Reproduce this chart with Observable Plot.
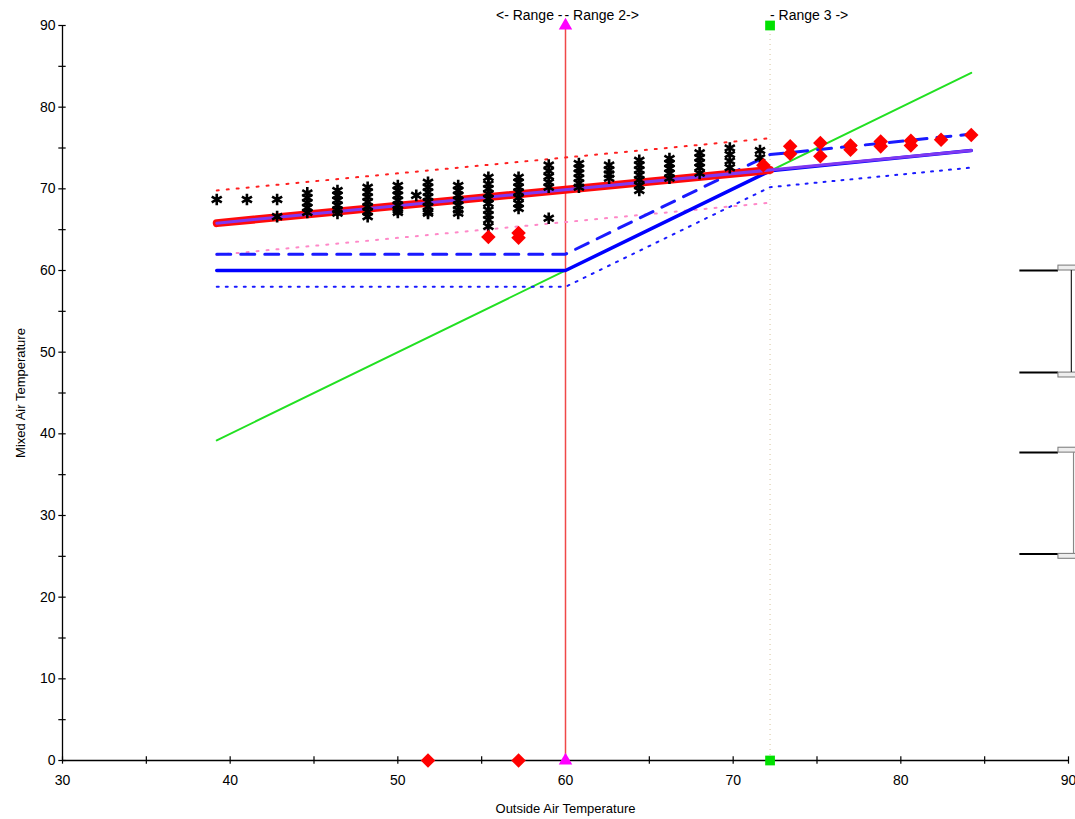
<!DOCTYPE html>
<html><head><meta charset="utf-8">
<script src="https://cdn.jsdelivr.net/npm/d3@7"></script>
<script src="https://cdn.jsdelivr.net/npm/@observablehq/plot@0.6"></script>
<style>
html,body{margin:0;padding:0;background:#fff;}
</style></head><body><div id="chart"></div>
<script>
// ---- tick values ----
const xTickLabels = [30, 40, 50, 60, 70, 80, 90];
const xTickMarks = [30, 35, 40, 45, 50, 55, 60, 65, 70, 75, 80, 85, 90];
const yTickLabels = [0, 10, 20, 30, 40, 50, 60, 70, 80, 90];
const yTickMarks = [0, 5, 10, 15, 20, 25, 30, 35, 40, 45, 50, 55, 60, 65, 70, 75, 80, 85, 90];

// ---- range boundaries ----
const rangeSplit1 = 60;
const rangeSplit2 = 72.2;

// ---- lines [x, y] ----
const greenLine = [[39.2, 39.2], [84.2, 84.2]];
const blueSolid = [[39.2, 60], [60, 60], [72.2, 72.2], [84.2, 74.7]];
const blueDashed = [[39.2, 62], [60, 62], [72.2, 74.2], [84.2, 76.7]];
const blueDotted = [[39.2, 58], [60, 58], [72.2, 70.2], [84.2, 72.6]];
const regressionBand = [[39.2, 65.8], [72.2, 72.3]];
const regressionCenter = [[39.2, 65.8], [72.2, 72.3], [84.2, 74.7]];
const upperDotted = [[39.2, 69.8], [72.2, 76.2]];
const lowerDotted = [[39.2, 61.9], [72.2, 68.3]];

// ---- measured points (asterisks) ----
const measX = [39.2, 41, 42.8, 44.6, 46.4, 48.2, 50, 51.1, 51.8, 53.6, 55.4, 57.2, 59, 60.8, 62.6, 64.4, 66.2, 68, 69.8, 71.6];
const measY = [
  [68.7],
  [68.7],
  [68.7, 66.6],
  [69.5, 68.9, 68.3, 67.7, 67.1],
  [69.8, 69.2, 68.6, 68.0, 67.4, 67.0],
  [70.2, 69.6, 69.0, 68.4, 67.8, 67.2, 66.6],
  [70.4, 69.8, 69.2, 68.6, 68.0, 67.4, 67.1],
  [69.2],
  [70.8, 70.2, 69.6, 69.0, 68.4, 67.8, 67.2, 67.0],
  [70.4, 69.8, 69.2, 68.6, 68.0, 67.4, 67.0],
  [71.4, 70.6, 70.0, 69.4, 68.8, 68.2, 67.4, 66.8, 66.2, 65.4],
  [71.4, 70.8, 70.2, 69.6, 68.9, 68.2, 67.6],
  [72.9, 72.2, 71.5, 70.8, 70.2, 66.4],
  [73.1, 72.5, 71.9, 71.3, 70.7, 70.2],
  [72.9, 72.3, 71.8, 71.3],
  [73.5, 72.9, 72.3, 71.7, 71.1, 70.4, 69.8],
  [73.7, 73.1, 72.5, 71.9, 71.3],
  [74.4, 73.8, 73.2, 72.6, 71.9],
  [75.0, 74.2, 73.4, 72.6],
  [74.7, 73.8]
];

// ---- flagged points (red diamonds) ----
const flagX = [51.8, 57.2, 55.4, 57.2, 57.2, 71.8, 73.4, 73.4, 75.2, 75.2, 77, 77, 78.8, 78.8, 80.6, 80.6, 82.4, 84.2];
const flagY = [0, 0, 64.1, 64.6, 64.0, 72.9, 75.2, 74.3, 75.6, 74.0, 75.3, 74.8, 75.8, 75.2, 75.9, 75.3, 76.0, 76.6];

// ---- bracket widgets at right ----
const bracketTops = [60.0, 37.7];
const bracketBottoms = [47.5, 25.3];

const rangeLabels = ["<- Range -", "- Range 2->", "- Range 3 ->"];
const xLabel = "Outside Air Temperature";
const yLabel = "Mixed Air Temperature";

const measured = measX.flatMap((x, i) => measY[i].map(y => ({x, y})));
const flagged = flagX.map((x, i) => ({x, y: flagY[i]}));
const pts = a => a.map(([x, y]) => ({x, y}));

const font = "Liberation Sans, Arial, sans-serif";

const chart = Plot.plot({
  width: 1075,
  height: 819,
  marginLeft: 62,
  marginRight: 7,
  marginTop: 25,
  marginBottom: 59,
  style: {fontFamily: font, fontSize: "13px", background: "#fff", overflow: "visible"},
  x: {domain: [30, 90]},
  y: {domain: [0, 90]},
  axis: null,
  marks: [
    // brackets on the right
    Plot.ruleY([...bracketTops, ...bracketBottoms], {y: d => d, x1: 87.1, x2: 89.4, stroke: "#000", strokeWidth: 2}),
    Plot.rect(bracketTops, {x1: 89.4, x2: 90.6, y1: d => d, y2: d => d + 0.6, fill: "#eee", stroke: "#777", strokeWidth: 1}),
    Plot.rect(bracketBottoms, {x1: 89.4, x2: 90.6, y1: d => d - 0.6, y2: d => d, fill: "#eee", stroke: "#777", strokeWidth: 1}),
    Plot.ruleX([0, 1], {x: i => i === 0 ? 90.17 : 90.3, y1: i => bracketBottoms[i], y2: i => bracketTops[i], stroke: i => i === 0 ? "#222" : "#888", strokeWidth: 1.2}),

    // axes lines and ticks
    Plot.ruleY([0], {x1: 30, x2: 90, stroke: "#000", strokeWidth: 1.3}),
    Plot.ruleX([30], {y1: 0, y2: 90, stroke: "#000", strokeWidth: 1.3}),
    Plot.ruleX(xTickMarks, {x: d => d, y1: -0.45, y2: 0.45, stroke: "#000", strokeWidth: 1.2}),
    Plot.ruleY(yTickMarks, {y: d => d, x1: 29.78, x2: 30.22, stroke: "#000", strokeWidth: 1.2}),
    Plot.text(xTickLabels, {x: d => d, y: 0, dy: 20, text: d => String(d), fill: "#000", fontSize: 14}),
    Plot.text(yTickLabels, {x: 30, y: d => d, dx: -7, textAnchor: "end", text: d => String(d), fill: "#000", fontSize: 14}),
    Plot.text([xLabel], {x: 60, y: 0, dy: 48, text: d => d, fill: "#000", fontSize: 13}),
    Plot.text([yLabel], {x: 30, y: 45, dx: -42, rotate: -90, text: d => d, fill: "#000", fontSize: 13}),

    // range markers
    Plot.ruleX([rangeSplit2], {y1: 0, y2: 90, stroke: "#d8c49a", strokeWidth: 1, strokeDasharray: "1,4"}),
    Plot.ruleX([rangeSplit1], {y1: 0, y2: 90, stroke: "#f04848", strokeWidth: 1.5}),
    Plot.text([rangeLabels[0]], {x: rangeSplit1, y: 90, dx: -3, dy: -10, textAnchor: "end", text: d => d, fill: "#000", fontSize: 14}),
    Plot.text([rangeLabels[1]], {x: rangeSplit1, y: 90, dx: -1, dy: -10, textAnchor: "start", text: d => d, fill: "#000", fontSize: 14}),
    Plot.text([rangeLabels[2]], {x: rangeSplit2, y: 90, dx: 0, dy: -10, textAnchor: "start", text: d => d, fill: "#000", fontSize: 14}),

    // model lines
    Plot.line(pts(greenLine), {x: "x", y: "y", stroke: "#22e022", strokeWidth: 2}),
    Plot.line(pts(lowerDotted), {x: "x", y: "y", stroke: "#ff88c8", strokeWidth: 2, strokeDasharray: "2,8"}),
    Plot.line(pts(upperDotted), {x: "x", y: "y", stroke: "#ff2020", strokeWidth: 2, strokeDasharray: "2,8"}),
    Plot.line(pts(blueDotted), {x: "x", y: "y", stroke: "#1a1aff", strokeWidth: 2, strokeDasharray: "2,7"}),
    Plot.line(pts(blueDashed), {x: "x", y: "y", stroke: "#1a1aff", strokeWidth: 3, strokeDasharray: "14,10"}),
    Plot.line(pts(blueSolid), {x: "x", y: "y", stroke: "#0000ff", strokeWidth: 3.5}),
    Plot.line(pts(regressionBand), {x: "x", y: "y", stroke: "#ff0a0a", strokeWidth: 8}),
    Plot.line(pts(regressionCenter), {x: "x", y: "y", stroke: "#8038f0", strokeWidth: 3}),

    // points
    Plot.dot(measured, {x: "x", y: "y", symbol: "asterisk", r: 5.5, stroke: "#000", strokeWidth: 2.6}),
    Plot.dot(flagged, {x: "x", y: "y", symbol: "square", rotate: 45, r: 5.8, fill: "#ff0000", stroke: "none"}),

    // range end markers
    Plot.dot([90, 0], {x: rangeSplit1, y: d => d, symbol: "triangle", r: 5, fill: "#ff00ff"}),
    Plot.dot([90, 0], {x: rangeSplit2, y: d => d, symbol: "square", r: 5.5, fill: "#00e000"})
  ]
});
document.getElementById("chart").appendChild(chart);
</script></body></html>
